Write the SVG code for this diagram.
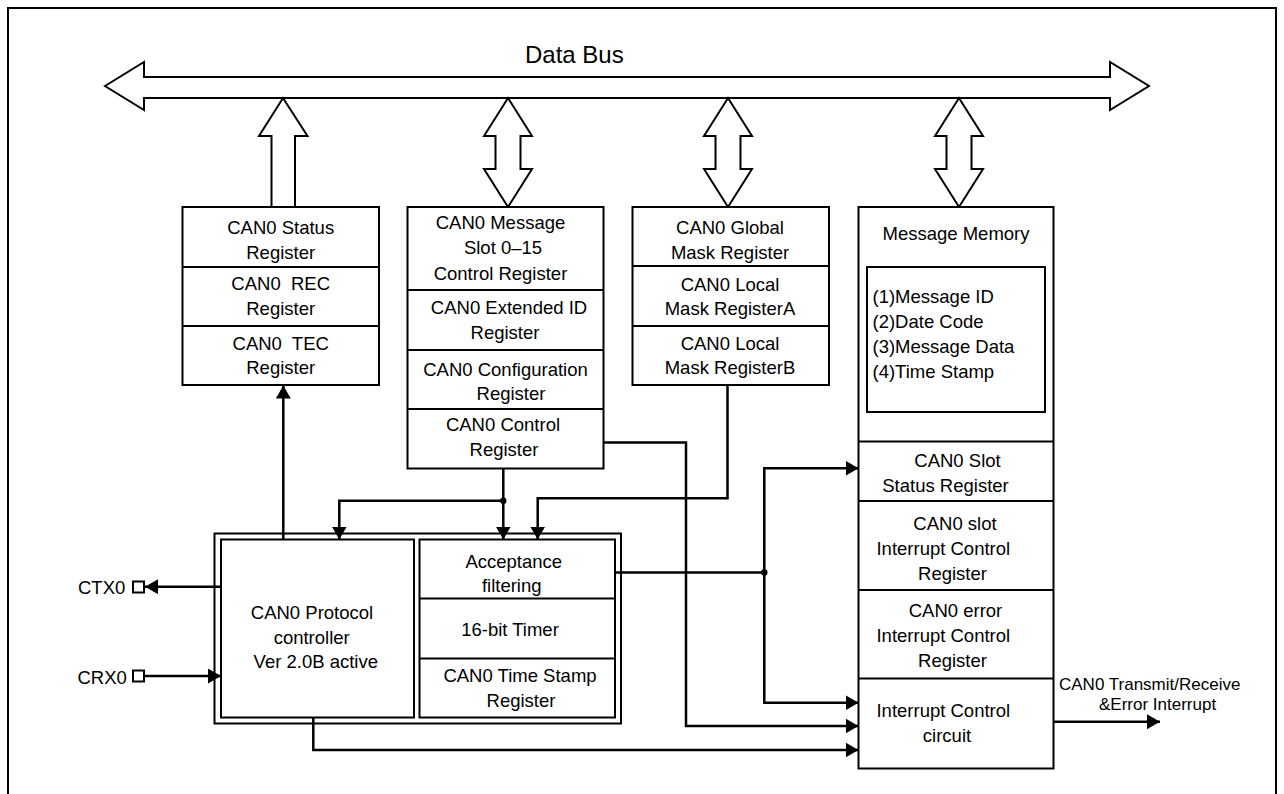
<svg xmlns="http://www.w3.org/2000/svg" width="1284" height="794" viewBox="0 0 1284 794">
<style>
text{font-family:"Liberation Sans",Arial,sans-serif;font-size:18.5px;fill:#000}
.c{text-anchor:middle}
.box{fill:#fff;stroke:#000;stroke-width:2}
.div{stroke:#000;stroke-width:2;fill:none}
.bus{fill:#fff;stroke:#000;stroke-width:2;stroke-linejoin:miter}
.w{fill:none;stroke:#000;stroke-width:2.5}
.wa{fill:none;stroke:#000;stroke-width:2.5;marker-end:url(#ah)}
</style>
<defs>
<marker id="ah" markerUnits="userSpaceOnUse" markerWidth="14" markerHeight="16" refX="13" refY="7.5" orient="auto">
<path d="M0,0 L13,7.5 L0,15 z" fill="#000"/>
</marker>
</defs>
<rect x="0" y="0" width="1284" height="794" fill="#fff"/>
<rect x="8" y="8" width="1268" height="820" fill="none" stroke="#000" stroke-width="2"/>

<g id="databus">
<polygon class="bus" points="105,86 144,62 144,77 1110,77 1110,62 1149,86 1110,110 1110,98 144,98 144,110"/>
<text x="525" y="63" style="font-size:24px">Data Bus</text>
</g>

<g id="bus-links">
<polygon class="bus" points="283,98 307.5,136 295,136 295,207 271.5,207 271.5,136 259,136"/>
<polygon class="bus" points="508,98 532,136 520.5,136 520.5,169 532,169 508,207 484,169 495.5,169 495.5,136 484,136"/>
<polygon class="bus" points="728,98 752,136 740.5,136 740.5,169 752,169 728,207 704,169 715.5,169 715.5,136 704,136"/>
<polygon class="bus" points="959,98 983,136 971.5,136 971.5,169 983,169 959,207 935,169 946.5,169 946.5,136 935,136"/>
</g>

<g id="status-block">
<rect class="box" x="182.5" y="207" width="196.5" height="178"/>
<line class="div" x1="182.5" y1="267" x2="379" y2="267"/>
<line class="div" x1="182.5" y1="326" x2="379" y2="326"/>
<text class="c" x="280.7" y="234">CAN0 Status</text>
<text class="c" x="280.7" y="259">Register</text>
<text class="c" x="280.7" y="290" xml:space="preserve">CAN0  REC</text>
<text class="c" x="280.7" y="315">Register</text>
<text class="c" x="280.7" y="349.5" xml:space="preserve">CAN0  TEC</text>
<text class="c" x="280.7" y="374">Register</text>
</g>

<g id="message-slot-block">
<rect class="box" x="407.5" y="207" width="196" height="261.5"/>
<line class="div" x1="407.5" y1="290" x2="603.5" y2="290"/>
<line class="div" x1="407.5" y1="350" x2="603.5" y2="350"/>
<line class="div" x1="407.5" y1="409" x2="603.5" y2="409"/>
<text class="c" x="500.5" y="228.5">CAN0 Message</text>
<text class="c" x="503" y="254">Slot 0–15</text>
<text class="c" x="500.5" y="279.5">Control Register</text>
<text class="c" x="509" y="313.5">CAN0 Extended ID</text>
<text class="c" x="505" y="338.5">Register</text>
<text class="c" x="505.5" y="375.5">CAN0 Configuration</text>
<text class="c" x="511" y="400">Register</text>
<text class="c" x="503" y="431">CAN0 Control</text>
<text class="c" x="504" y="455.5">Register</text>
</g>

<g id="mask-block">
<rect class="box" x="632.5" y="207" width="196.5" height="178"/>
<line class="div" x1="632.5" y1="266" x2="829" y2="266"/>
<line class="div" x1="632.5" y1="326" x2="829" y2="326"/>
<text class="c" x="730" y="233.5">CAN0 Global</text>
<text class="c" x="730" y="258.5">Mask Register</text>
<text class="c" x="730" y="290.5">CAN0 Local</text>
<text class="c" x="730" y="315">Mask RegisterA</text>
<text class="c" x="730" y="350">CAN0 Local</text>
<text class="c" x="730" y="374">Mask RegisterB</text>
</g>

<g id="message-memory-block">
<rect class="box" x="858.5" y="207" width="195" height="561.5"/>
<rect class="box" x="867" y="267" width="178" height="145"/>
<line class="div" x1="858.5" y1="441.5" x2="1053.5" y2="441.5"/>
<line class="div" x1="858.5" y1="501" x2="1053.5" y2="501"/>
<line class="div" x1="858.5" y1="590" x2="1053.5" y2="590"/>
<line class="div" x1="858.5" y1="678.5" x2="1053.5" y2="678.5"/>
<text class="c" x="956" y="240">Message Memory</text>
<text x="872.5" y="303">(1)Message ID</text>
<text x="872.5" y="328">(2)Date Code</text>
<text x="872.5" y="353">(3)Message Data</text>
<text x="872.5" y="378">(4)Time Stamp</text>
<text class="c" x="957.5" y="466.7">CAN0 Slot</text>
<text class="c" x="945.5" y="491.7">Status Register</text>
<text class="c" x="955" y="530">CAN0 slot</text>
<text class="c" x="943.3" y="555">Interrupt Control</text>
<text class="c" x="952.5" y="580">Register</text>
<text class="c" x="955.5" y="616.7">CAN0 error</text>
<text class="c" x="943.3" y="641.7">Interrupt Control</text>
<text class="c" x="952.5" y="666.7">Register</text>
<text class="c" x="943.3" y="716.7">Interrupt Control</text>
<text class="c" x="947" y="741.7">circuit</text>
</g>

<g id="protocol-block">
<rect class="box" x="214.5" y="533.5" width="406.5" height="190"/>
<rect class="box" x="221" y="539.5" width="193" height="178"/>
<text class="c" x="312" y="619">CAN0 Protocol</text>
<text class="c" x="311.7" y="644">controller</text>
<text class="c" x="315.8" y="668.3">Ver 2.0B active</text>
</g>

<g id="acceptance-block">
<rect class="box" x="419.5" y="539.5" width="195.5" height="178"/>
<line class="div" x1="419.5" y1="598.5" x2="615" y2="598.5"/>
<line class="div" x1="419.5" y1="658.5" x2="615" y2="658.5"/>
<text class="c" x="513.8" y="567.7">Acceptance</text>
<text class="c" x="511.7" y="591.7">filtering</text>
<text class="c" x="510" y="635.7">16-bit Timer</text>
<text class="c" x="520" y="681.7">CAN0 Time Stamp</text>
<text class="c" x="521" y="706.7">Register</text>
</g>

<g id="ports">
<rect class="box" x="133" y="581.5" width="11" height="11"/>
<text x="78" y="594">CTX0</text>
<rect class="box" x="133" y="670.5" width="11" height="11"/>
<text x="77.5" y="684">CRX0</text>
</g>

<g id="output-label">
<text x="1059" y="690" style="font-size:17px">CAN0 Transmit/Receive</text>
<text x="1099" y="710" style="font-size:17px">&amp;Error Interrupt</text>
</g>

<g id="connectors">
<path class="wa" d="M283.3,539.5 V385.5"/>
<path class="wa" d="M503.3,468.5 V539.5"/>
<path class="wa" d="M503.3,500.7 H339.3 V539.5"/>
<circle cx="503.3" cy="500.7" r="3.2" fill="#000"/>
<path class="wa" d="M727.5,385 V498.3 H537.7 V539.5"/>
<path class="wa" d="M603.5,442.5 H686 V726 H858.5"/>
<path class="w" d="M615,572.5 H764.3"/>
<circle cx="764.3" cy="572.5" r="3.2" fill="#000"/>
<path class="wa" d="M764.3,572.5 V468.3 H858.5"/>
<path class="wa" d="M764.3,572.5 V702.7 H858.5"/>
<path class="wa" d="M313.3,717.5 V750 H858.5"/>
<path class="wa" d="M221,586.7 H145"/>
<path class="wa" d="M144,676 H221"/>
<path class="wa" d="M1053.5,721.7 H1160"/>
</g>
</svg>
